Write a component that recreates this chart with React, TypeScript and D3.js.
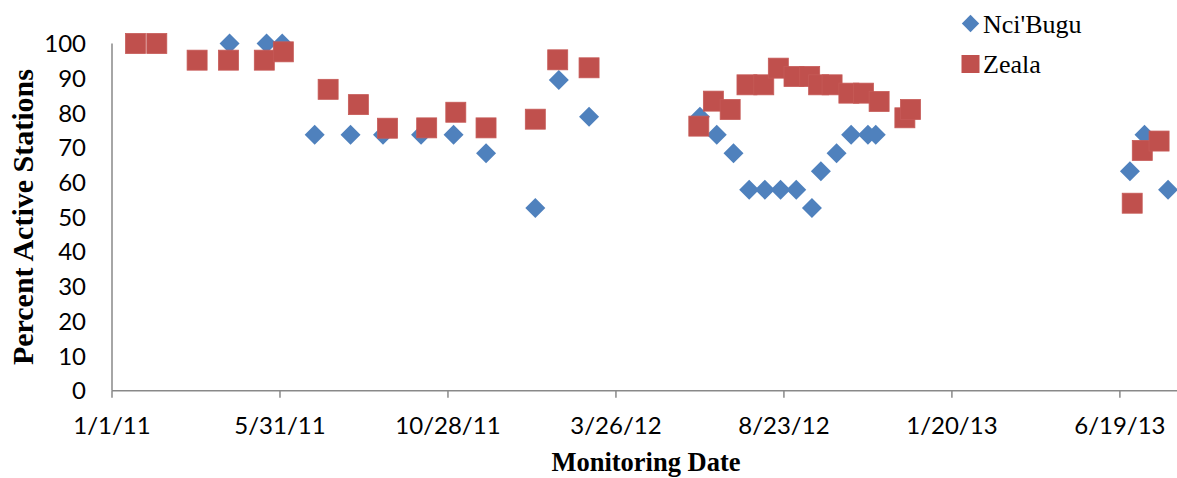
import React from "react";
import * as d3 from "d3";

// Monitoring dates and percent of active stations per site
const nciBuguDates = [
  "2011-04-16", "2011-05-19", "2011-06-02", "2011-07-01", "2011-08-02", "2011-08-31",
  "2011-10-04", "2011-11-02", "2011-12-01", "2012-01-14", "2012-02-04", "2012-03-02",
  "2012-06-09", "2012-06-24", "2012-07-09", "2012-07-23", "2012-08-06", "2012-08-20",
  "2012-09-03", "2012-09-17", "2012-09-25", "2012-10-09", "2012-10-22", "2012-11-06",
  "2012-11-13", "2013-06-28", "2013-07-11", "2013-08-01",
];
const nciBuguValues = [
  100, 100, 100, 73.7, 73.7, 73.7,
  73.7, 73.7, 68.4, 52.6, 89.5, 78.9,
  78.9, 73.7, 68.4, 57.9, 57.9, 57.9,
  57.9, 52.6, 63.2, 68.4, 73.7, 73.7,
  73.7, 63.2, 73.7, 57.9,
];

const zealaDates = [
  "2011-01-22", "2011-02-10", "2011-03-18", "2011-04-15", "2011-05-17", "2011-06-03",
  "2011-07-13", "2011-08-09", "2011-09-04", "2011-10-09", "2011-11-04", "2011-12-01",
  "2012-01-14", "2012-02-03", "2012-03-02", "2012-06-08", "2012-06-21", "2012-07-06",
  "2012-07-21", "2012-08-05", "2012-08-18", "2012-09-01", "2012-09-15", "2012-09-23",
  "2012-10-05", "2012-10-20", "2012-11-02", "2012-11-16", "2012-12-09", "2012-12-14",
  "2013-06-30", "2013-07-09", "2013-07-24",
];
const zealaValues = [
  100, 100, 95.2, 95.2, 95.2, 97.6,
  86.8, 82.4, 75.6, 75.7, 80.2, 75.7,
  78.2, 95.3, 93.0, 76.2, 83.4, 81.0,
  88.1, 88.1, 92.9, 90.5, 90.5, 88.1,
  88.1, 85.7, 85.7, 83.3, 78.6, 81.0,
  54.0, 69.2, 71.9,
];

const xTickLabels = ["1/1/11", "5/31/11", "10/28/11", "3/26/12", "8/23/12", "1/20/13", "6/19/13"];
const yTickValues = [0, 10, 20, 30, 40, 50, 60, 70, 80, 90, 100];

const seriesNames = ["Nci'Bugu", "Zeala"];

const BLUE = "#4F81BD";
const RED = "#C0504D";
const AXIS = "#898989";

export default function App() {
  const width = 1177;
  const height = 478;

  const parseIso = d3.utcParse("%Y-%m-%d");
  const parseTick = d3.utcParse("%m/%d/%y");

  const x = d3
    .scaleUtc()
    .domain([parseIso("2011-01-01")!, parseIso("2013-08-09")!])
    .range([112, 1177]);
  const y = d3.scaleLinear().domain([0, 100]).range([390.7, 43.5]);

  const blue = nciBuguDates.map((d, i) => ({ x: x(parseIso(d)!), y: y(nciBuguValues[i]) }));
  const red = zealaDates.map((d, i) => ({ x: x(parseIso(d)!), y: y(zealaValues[i]) }));

  const diamond = d3.symbol().type(d3.symbolSquare).size(200)();
  const square = 20;

  const xTicks = xTickLabels.map((t) => ({ label: t, x: x(parseTick(t)!) }));

  const tickFont = "Lato, 'Open Sans', sans-serif";
  const serif = "'Liberation Serif', 'Times New Roman', serif";

  return (
    <svg
      width={width}
      height={height}
      style={{ position: "absolute", left: 0, top: 0, background: "#fff" }}
    >
      <rect width={width} height={height} fill="#fff" />

      {/* axes */}
      <line x1={x.range()[0]} x2={x.range()[0]} y1={y(100)} y2={y(0)} stroke={AXIS} strokeWidth={1.5} />
      <line x1={x.range()[0]} x2={x.range()[1]} y1={y(0)} y2={y(0)} stroke={AXIS} strokeWidth={1.5} />
      {xTicks.map((t) => (
        <g key={t.label}>
          <line x1={t.x} x2={t.x} y1={y(0)} y2={y(0) + 7} stroke={AXIS} strokeWidth={1.5} />
          <text x={t.x} y={434} textAnchor="middle" fontFamily={tickFont} fontSize={24} fill="#000">
            {t.label}
          </text>
        </g>
      ))}
      {yTickValues.map((v) => (
        <text key={v} x={86} y={y(v) + 8.6} textAnchor="end" fontFamily={tickFont} fontSize={24} fill="#000">
          {v}
        </text>
      ))}

      {/* axis titles */}
      <text
        transform={`translate(33, ${(y(0) + y(100)) / 2}) rotate(-90)`}
        textAnchor="middle"
        fontFamily={serif}
        fontWeight="bold"
        fontSize={30}
        fill="#000"
      >
        Percent Active Stations
      </text>
      <text x={646} y={471} textAnchor="middle" fontFamily={serif} fontWeight="bold" fontSize={26.5} fill="#000">
        Monitoring Date
      </text>

      {/* Nci'Bugu: diamonds */}
      {blue.map((p, i) => (
        <path key={`b${i}`} d={diamond} transform={`translate(${p.x},${p.y}) rotate(45)`} fill={BLUE} />
      ))}
      {/* Zeala: squares */}
      {red.map((p, i) => (
        <rect key={`r${i}`} x={p.x - square / 2} y={p.y - square / 2} width={square} height={square} fill={RED} stroke="#C65A57" strokeWidth={0.8} />
      ))}

      {/* legend */}
      <path d={d3.symbol().type(d3.symbolSquare).size(150)()} transform="translate(970.5,23.5) rotate(45)" fill={BLUE} />
      <text x={983} y={33} fontFamily={serif} fontSize={26} fill="#000">
        {seriesNames[0]}
      </text>
      <rect x={961.5} y={55} width={18} height={18} fill={RED} />
      <text x={983} y={72.5} fontFamily={serif} fontSize={26} fill="#000">
        {seriesNames[1]}
      </text>
    </svg>
  );
}
